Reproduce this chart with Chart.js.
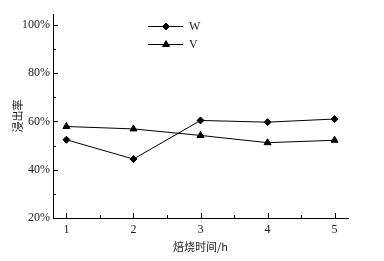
<!DOCTYPE html>
<html>
<head>
<meta charset="utf-8">
<script src="https://cdn.jsdelivr.net/npm/chart.js@4/dist/chart.umd.min.js"></script>
<style>
  html, body { margin: 0; padding: 0; background: #fff; }
  canvas { display: block; }
</style>
</head>
<body>
<canvas id="chart" width="384" height="261"></canvas>
<script>
const hours = [1, 2, 3, 4, 5];
const wRate = [52.4, 44.4, 60.4, 59.7, 61.0];
const vRate = [57.9, 56.9, 54.2, 51.2, 52.2];
const seriesNames = ["W", "V"];
const yLabels = [20, 40, 60, 80, 100];

const serif = "'Liberation Serif', 'Times New Roman', serif";
const cjk = "'Noto Sans CJK SC', sans-serif";

// inward tick marks (major + minor) and the little legend
const extras = {
  id: "extras",
  afterDraw(chart) {
    const ctx = chart.ctx;
    const x = chart.scales.x;
    const y = chart.scales.y;
    const area = chart.chartArea;
    ctx.save();
    ctx.strokeStyle = "#000";
    ctx.lineWidth = 1;
    ctx.beginPath();
    for (let v = 20; v <= 100; v += 10) {
      const py = Math.round(y.getPixelForValue(v)) + 0.5;
      const len = v % 20 === 0 ? 5 : 3;
      ctx.moveTo(area.left, py);
      ctx.lineTo(area.left + len, py);
    }
    for (let v = 1; v <= 5; v += 0.5) {
      const px = Math.round(x.getPixelForValue(v)) + 0.5;
      const len = Number.isInteger(v) ? 5 : 3;
      ctx.moveTo(px, area.bottom);
      ctx.lineTo(px, area.bottom - len);
    }
    ctx.stroke();

    // legend
    chart.data.datasets.forEach((ds, i) => {
      const ly = 26 + i * 18;
      const lx = 148;
      ctx.strokeStyle = "#000";
      ctx.beginPath();
      ctx.moveTo(lx, ly + 0.5);
      ctx.lineTo(lx + 35, ly + 0.5);
      ctx.stroke();
      ctx.fillStyle = "#000";
      Chart.helpers.drawPoint(ctx, {
        pointStyle: ds.pointStyle,
        radius: ds.pointRadius,
        borderWidth: 1,
        rotation: 0
      }, lx + 18, ly + 0.5);
      ctx.font = "12px " + serif;
      ctx.textBaseline = "middle";
      ctx.textAlign = "left";
      ctx.fillStyle = "#222";
      ctx.fillText(ds.label, lx + 41, ly + 1);
    });
    ctx.restore();
  }
};

new Chart(document.getElementById("chart"), {
  type: "line",
  data: {
    datasets: [
      {
        label: seriesNames[0],
        data: hours.map((h, i) => ({ x: h, y: wRate[i] })),
        borderColor: "#000",
        backgroundColor: "#000",
        borderWidth: 1,
        pointStyle: "rectRot",
        pointRadius: 3.5,
        tension: 0
      },
      {
        label: seriesNames[1],
        data: hours.map((h, i) => ({ x: h, y: vRate[i] })),
        borderColor: "#000",
        backgroundColor: "#000",
        borderWidth: 1,
        pointStyle: "triangle",
        pointRadius: 4,
        tension: 0
      }
    ]
  },
  options: {
    responsive: false,
    animation: false,
    layout: { padding: { top: 14, right: 36, left: 0, bottom: 0 } },
    plugins: {
      legend: { display: false },
      tooltip: { enabled: false }
    },
    scales: {
      x: {
        type: "linear",
        min: 0.8,
        max: 5.2,
        grid: { display: false, drawTicks: false },
        border: { display: true, color: "#000", width: 1 },
        ticks: {
          autoSkip: false,
          maxRotation: 0,
          padding: 5,
          color: "#222",
          font: { family: serif, size: 12 },
          callback: (v) => String(v)
        },
        afterBuildTicks(scale) {
          scale.ticks = hours.map((v) => ({ value: v }));
        },
        title: {
          display: true,
          text: "焙烧时间/h",
          color: "#222",
          font: { family: cjk, size: 11 },
          padding: { top: 0, bottom: 8 }
        },
        afterFit(scale) { scale.height = 43; }
      },
      y: {
        min: 20,
        max: 104.5,
        grid: { display: false, drawTicks: false },
        border: { display: true, color: "#000", width: 1 },
        ticks: {
          autoSkip: false,
          padding: 3,
          color: "#222",
          font: { family: serif, size: 12 },
          callback: (v) => v + "%"
        },
        afterBuildTicks(scale) {
          scale.ticks = yLabels.map((v) => ({ value: v }));
        },
        title: {
          display: true,
          text: "浸出率",
          color: "#222",
          font: { family: cjk, size: 11 },
          padding: { top: 11, bottom: 0 }
        },
        afterFit(scale) { scale.width = 53; }
      }
    }
  },
  plugins: [extras]
});
</script>
</body>
</html>
